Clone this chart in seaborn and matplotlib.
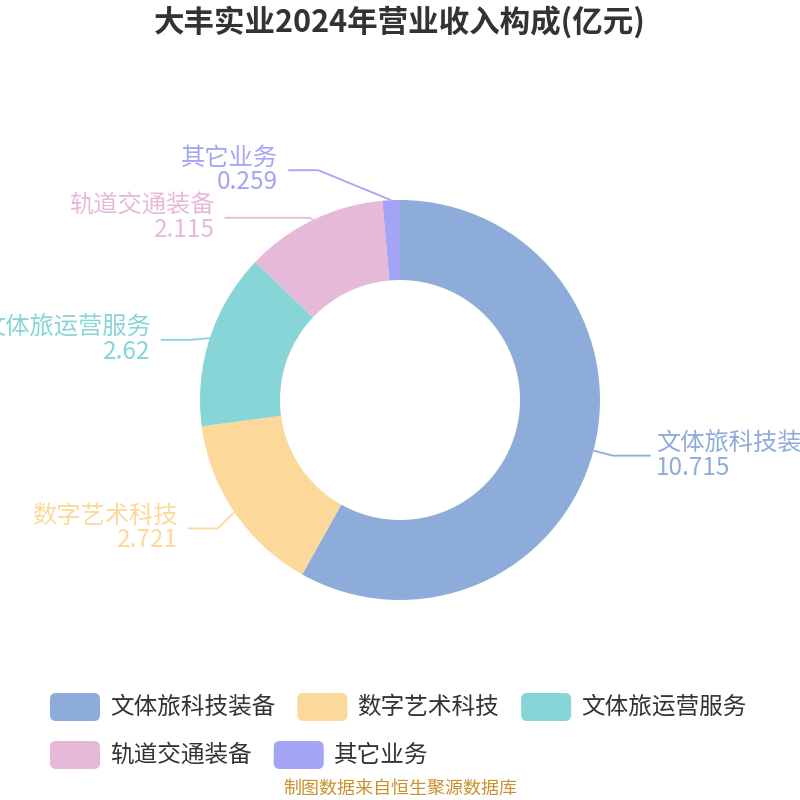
import matplotlib
matplotlib.use("Agg")
import matplotlib.pyplot as plt
import numpy as np
import seaborn as sns
from matplotlib.patches import FancyBboxPatch

categories = ["文体旅科技装备", "数字艺术科技", "文体旅运营服务", "轨道交通装备", "其它业务"]
values = [10.715, 2.721, 2.62, 2.115, 0.259]
value_labels = ["10.715", "2.721", "2.62", "2.115", "0.259"]
colors = ["#8eacda", "#fdd89b", "#88d5d8", "#e6b9d9", "#a4a4f5"]

title = "大丰实业2024年营业收入构成(亿元)"
source = "制图数据来自恒生聚源数据库"

sns.set_theme(style="white")
plt.rcParams["font.family"] = ["Noto Sans CJK SC", "DejaVu Sans"]

W = H = 800
fig = plt.figure(figsize=(8, 8), dpi=100)
ax = fig.add_axes([0, 0, 1, 1])


def py(y):
    # pixel row (from top) -> data y
    return H - y


cx, cy, R, r_in = 400, py(400), 200, 120
wedges, _ = ax.pie(values, colors=colors, startangle=90, counterclock=False,
                   center=(cx, cy), radius=R, wedgeprops=dict(width=R - r_in, linewidth=0),
                   frame=True)
ax.set_xlim(0, W)
ax.set_ylim(0, H)
ax.set_aspect("equal")
ax.axis("off")

# leader lines: radial piece, then horizontal piece; nudges keep left labels apart
nudges = [(0, 0), (0, -5), (0, -8), (5, -16), (-72, 10)]
seg_len = [38, 30, 30, 85, 30]
for w, name, val, col, (nx, ny), seg in zip(wedges, categories, value_labels, colors, nudges, seg_len):
    ang = np.deg2rad((w.theta1 + w.theta2) / 2)
    ex, ey = cx + R * np.cos(ang), cy + R * np.sin(ang)
    bx, by = cx + (R + 20) * np.cos(ang) + nx, cy + (R + 20) * np.sin(ang) + ny
    side = 1 if np.cos(ang) >= 0 else -1
    hx = bx + side * seg
    ax.plot([ex, bx, hx], [ey, by, by], color=col, lw=1.3, solid_capstyle="butt")
    tx = hx + side * (5 if side > 0 else 10)
    ha = "left" if side > 0 else "right"
    ax.text(tx, by + 12, name, color=col, fontsize=17.5, ha=ha, va="center")
    ax.text(tx, by - 12, val, color=col, fontsize=17.5, ha=ha, va="center")

ax.text(400, py(22), title, fontsize=22, fontweight="bold", color="#333333", ha="center", va="center")

# legend drawn by hand to mimic the rounded swatches
fig.canvas.draw()
renderer = fig.canvas.get_renderer()
rows = [[0, 1, 2], [3, 4]]
row_y = [707, 755]
for row, yc in zip(rows, row_y):
    x = 50
    for i in row:
        ax.add_patch(FancyBboxPatch((x + 4, py(yc) - 10), 42, 20,
                                    boxstyle="round,pad=4,rounding_size=6",
                                    facecolor=colors[i], edgecolor="none"))
        t = ax.text(x + 60, py(yc), categories[i], fontsize=17, color="#333333",
                    ha="left", va="center")
        bb = t.get_window_extent(renderer)
        x = x + 60 + bb.width + 22

ax.text(400, py(789), source, fontsize=13, color="#c9912b", ha="center", va="center")

fig.savefig("out.png", dpi=100)
